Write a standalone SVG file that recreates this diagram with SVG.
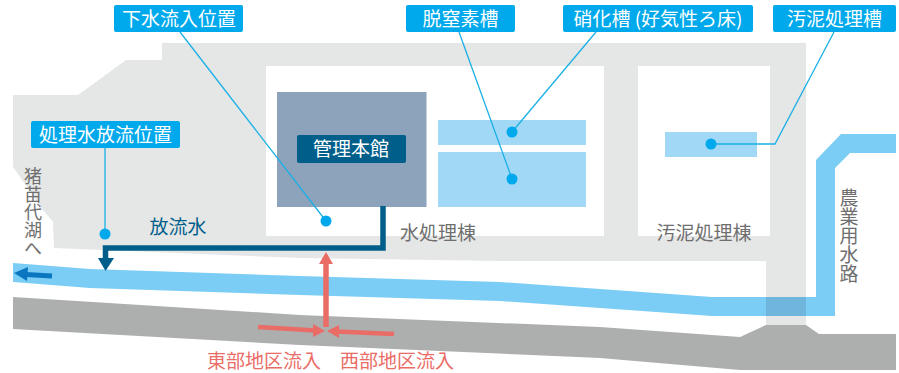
<svg xmlns="http://www.w3.org/2000/svg" width="899" height="373" viewBox="0 0 899 373">
<defs><style>
text{font-family:"Noto Sans CJK JP","Noto Sans",sans-serif;font-size:19px;text-anchor:middle}
.lbl{fill:#00a9ec}
.w{fill:#fff}
.g{fill:#6f6f6f}
.v{writing-mode:vertical-rl;fill:#6f6f6f}
.p{fill:#ea6c66}
.lead{fill:none;stroke:#1ab0e6;stroke-width:1.300}
.dot{fill:#00a9ec}
.tank{fill:#a0d8f6}
.bld{fill:#fff}
.pk{stroke:#ea6c66;fill:none}
</style></defs>
<rect width="899" height="373" fill="#fff"/>
<g id="site">
<polygon fill="#e5e6e6" points="13,95 78,95 126,60 162,60 162,43 806,43 806,325 766,325 766,261 500,261 300,258 54,248 53,222 43,210 13,167"/>
<path fill="#7bcdf5" d="M13,263 L90,269 L300,276 L500,282 L600,289 L712,297 L816,297 L816,160 L841,134 L896,134 L896,153 L850,153 L835,168 L835,316 L712,316 L600,308 L500,301 L300,295 L90,288 L13,282 Z"/>
<rect x="766" y="297" width="40" height="19" fill="#6fb5dc"/>
<polygon fill="#adaeae" points="13,297 300,315 600,327 740,337 766,325 806,325 819,334 896,334 896,370 740,370 600,358 300,345 13,329"/>
</g>
<g id="building-water"><rect class="bld" x="266" y="66" width="338" height="170"/><text class="g" x="438" y="240">水処理棟</text></g>
<g id="building-sludge"><rect class="bld" x="638" y="66" width="132" height="170"/><text class="g" x="704" y="240">汚泥処理棟</text></g>
<g id="main-building"><rect x="277" y="92" width="149.500" height="115" fill="#8da2bb"/><rect x="297" y="135" width="109" height="28" rx="2" fill="#005e8b"/><text class="w" x="351" y="156">管理本館</text></g>
<g id="tank-nitrification"><rect class="tank" x="438" y="120" width="148" height="25"/></g>
<g id="tank-denitrification"><rect class="tank" x="438" y="152" width="148" height="55"/></g>
<g id="tank-sludge"><rect class="tank" x="665" y="132" width="92" height="25"/></g>
<g id="connectors">
<path class="lead" d="M180,32 L326,221"/>
<path class="lead" d="M105,148 L105,234"/>
<path class="lead" d="M459,32 L512,179"/>
<path class="lead" d="M596,32 L512,132"/>
<path class="lead" d="M834,32 L775,144 L711,144"/>
<circle class="dot" cx="326" cy="221" r="5.500"/>
<circle class="dot" cx="105" cy="234" r="5.500"/>
<circle class="dot" cx="512" cy="179" r="5.500"/>
<circle class="dot" cx="512" cy="132" r="5.500"/>
<circle class="dot" cx="711" cy="144" r="5.500"/>
<path d="M383,206 V248 H105.500 V259" fill="none" stroke="#005e8b" stroke-width="5.500"/>
<polygon points="98,258 114,258 105.500,271" fill="#005e8b"/>
<path d="M52,276 L26,274.500" stroke="#0a76bf" stroke-width="5" fill="none"/>
<polygon points="14,273 28,267 27,281" fill="#0a76bf"/>
<path class="pk" stroke-width="5.500" d="M326,327 V262"/>
<polygon points="326,252 333,264 319,264" fill="#ea6c66"/>
<path class="pk" stroke-width="4.500" d="M258,327 L316,330.500"/>
<polygon points="325,331 313,324 313,337" fill="#ea6c66"/>
<path class="pk" stroke-width="4.500" d="M394,334 L336,331.500"/>
<polygon points="327,331 339,325 339,338" fill="#ea6c66"/>
</g>
<g id="label-inflow"><rect class="lbl" x="114" y="5" width="129" height="27" rx="2"/><text class="w" x="179" y="26">下水流入位置</text></g>
<g id="label-discharge"><rect class="lbl" x="31" y="121" width="149" height="27" rx="2"/><text class="w" x="105.500" y="142">処理水放流位置</text></g>
<g id="label-denitrification"><rect class="lbl" x="406" y="5" width="109" height="27" rx="2"/><text class="w" x="460.500" y="26">脱窒素槽</text></g>
<g id="label-nitrification"><rect class="lbl" x="563" y="5" width="190" height="27" rx="2"/><text class="w" x="658" y="26">硝化槽 (好気性ろ床)</text></g>
<g id="label-sludge"><rect class="lbl" x="773" y="5" width="123" height="27" rx="2"/><text class="w" x="834.500" y="26">汚泥処理槽</text></g>
<g id="label-effluent"><text x="178" y="234" fill="#005e8b">放流水</text></g>
<g id="label-lake"><text class="v" x="33" y="212" style="font-size:18px">猪苗代湖へ</text></g>
<g id="label-channel"><text class="v" x="849" y="236">農業用水路</text></g>
<g id="label-east"><text class="p" x="264" y="368">東部地区流入</text></g>
<g id="label-west"><text class="p" x="397" y="368">西部地区流入</text></g>
</svg>
